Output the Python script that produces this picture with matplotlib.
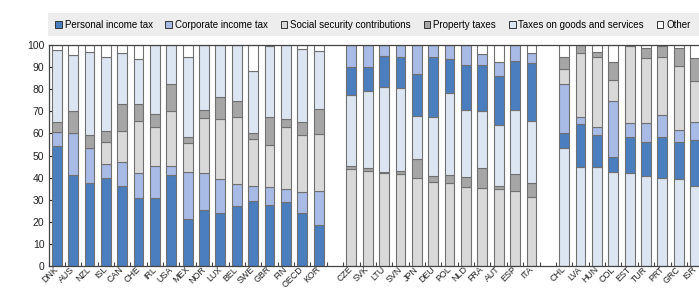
import matplotlib
matplotlib.use("Agg")
import matplotlib.pyplot as plt
from matplotlib.patches import Rectangle, Patch
import numpy as np

plt.rcParams['font.family'] = ['Liberation Sans', 'DejaVu Sans']

# ---- data -------------------------------------------------------------
group1 = ["DNK", "AUS", "NZL", "ISL", "CAN", "CHE", "IRL", "USA", "MEX", "NOR",
          "LUX", "BEL", "SWE", "GBR", "FIN", "OECD", "KOR"]
group2 = ["CZE", "SVK", "LTU", "SVN", "JPN", "DEU", "POL", "NLD", "FRA", "AUT",
          "ESP", "ITA"]
group3 = ["CHL", "LVA", "HUN", "COL", "EST", "TUR", "PRT", "GRC", "ISR"]

series_names = ["Personal income tax", "Corporate income tax",
                "Social security contributions", "Property taxes",
                "Taxes on goods and services", "Other"]

personal = [54.4, 41.0, 37.7, 39.8, 36.2, 30.6, 30.9, 41.1, 21.3, 25.3, 23.8, 27.1, 29.6, 27.6, 29.1, 23.8, 18.6,
            12.5, 10.6, 13.9, 14.0, 19.0, 27.1, 15.4, 20.6, 20.7, 22.3, 22.3, 25.9,
            6.8, 19.4, 14.6, 6.5, 16.6, 15.2, 18.8, 16.8, 21.0]
corporate = [6.2, 19.3, 15.5, 6.4, 11.0, 11.3, 14.3, 4.2, 21.4, 16.6, 15.7, 9.9, 6.6, 8.0, 5.7, 9.8, 15.5,
             10.1, 10.1, 5.0, 5.6, 13.1, 5.6, 6.5, 9.0, 4.9, 6.1, 7.1, 4.5,
             22.4, 3.3, 3.7, 25.6, 6.1, 8.4, 9.8, 5.5, 8.0]
social = [0.2, 0.0, 0.0, 9.8, 14.0, 23.7, 17.5, 25.0, 13.1, 25.1, 27.0, 30.3, 21.1, 19.2, 28.0, 25.7, 25.6,
          44.0, 43.0, 41.9, 41.5, 40.0, 37.9, 37.4, 35.9, 35.2, 34.7, 33.9, 31.1,
          6.7, 28.9, 31.4, 9.4, 34.9, 29.7, 26.4, 29.1, 18.5]
property_tax = [4.2, 9.7, 5.9, 5.3, 12.0, 7.5, 6.1, 12.0, 2.4, 3.7, 9.8, 7.5, 3.0, 12.5, 3.6, 5.7, 11.3,
                1.2, 1.2, 0.6, 1.5, 8.4, 3.0, 3.8, 4.3, 9.0, 1.6, 7.6, 6.3,
                5.3, 3.5, 2.6, 8.0, 0.5, 4.5, 4.7, 7.9, 10.6]
goods = [32.9, 25.3, 37.6, 33.1, 23.0, 20.6, 31.1, 17.7, 36.2, 29.3, 23.7, 25.2, 27.9, 32.4, 33.6, 33.2, 26.4,
         32.2, 35.1, 38.6, 37.4, 19.5, 26.4, 36.9, 30.2, 26.1, 27.5, 29.1, 28.4,
         53.2, 44.9, 44.7, 42.7, 41.9, 40.9, 39.7, 39.2, 36.2]
other = [2.1, 4.7, 3.3, 5.6, 3.8, 6.3, 0.1, 0.0, 5.6, 0.0, 0.0, 0.0, 11.8, 0.3, 0.0, 1.8, 2.6,
         0.0, 0.0, 0.0, 0.0, 0.0, 0.0, 0.0, 0.0, 4.1, 7.8, 0.0, 3.8,
         5.6, 0.0, 3.0, 7.8, 0.0, 1.3, 0.6, 1.5, 5.7]

# stacking order (bottom -> top) used in each group, indices into series
stack_orders = [[0, 1, 2, 3, 4, 5], [2, 3, 4, 0, 1, 5], [4, 0, 1, 2, 3, 5]]

colors = ["#4A7EBF", "#A8BBE6", "#D9D9D9", "#A6A6A6", "#DCE6F2", "#FFFFFF"]

# ---- figure -----------------------------------------------------------
W, H = 699, 288
fig = plt.figure(figsize=(W / 100, H / 100), dpi=100)

slot_px = 16.37
n_slots = 42
left_px, top_px, bottom_px = 48.5, 45, 266
ax = fig.add_axes([left_px / W, (H - bottom_px) / H,
                   n_slots * slot_px / W, (bottom_px - top_px) / H])

values = np.array([personal, corporate, social, property_tax, goods, other])
groups = [group1, group2, group3]

labels_all, pos_all = [], []
start = 0
offset = 0
for gi, g in enumerate(groups):
    idx = np.arange(start, start + len(g))
    pos = idx + offset
    bottom = np.zeros(len(g))
    for s in stack_orders[gi]:
        v = values[s, idx]
        ax.bar(pos, v, bottom=bottom, width=0.6, color=colors[s],
               edgecolor="#707070", linewidth=0.8, zorder=2)
        bottom += v
    labels_all += g
    pos_all += list(pos)
    start += len(g)
    offset += 1

ax.set_xlim(-0.5, n_slots - 0.5)
ax.set_ylim(0, 100)
ax.set_yticks(np.arange(0, 101, 10))
ax.tick_params(axis='y', direction='in', length=3, width=0.8, labelsize=7.5,
               colors='#222222', pad=3)

ax.set_xticks(np.arange(-0.5, n_slots, 1))
ax.set_xticklabels([])
ax.tick_params(axis='x', which='major', direction='in', length=3, width=0.8,
               color='#444444')
ax.set_xticks(pos_all, minor=True)
ax.set_xticklabels(labels_all, minor=True, rotation=45, ha='right',
                   va='center', rotation_mode='anchor', fontsize=6.4,
                   color='#222222')
ax.tick_params(axis='x', which='minor', length=0, pad=1.5)

for side in ['left', 'bottom', 'top']:
    ax.spines[side].set_color('#444444')
    ax.spines[side].set_linewidth(0.9)
ax.spines['right'].set_visible(False)

# legend band
fig.patches.append(Rectangle((48 / W, (H - 36) / H), (W - 48) / W, 23 / H,
                             transform=fig.transFigure, facecolor='#EDEDED',
                             edgecolor='none', zorder=0))
handles = [Patch(facecolor=colors[i], edgecolor='#333333', linewidth=0.7,
                 label=series_names[i]) for i in range(6)]
fig.legend(handles=handles, loc='center left', ncol=6, frameon=False,
           bbox_to_anchor=(55 / W, (H - 24.5) / H), fontsize=7,
           handlelength=0.7, handleheight=0.7, handletextpad=0.3,
           columnspacing=1.3, borderaxespad=0, borderpad=0)

fig.savefig("out.png", dpi=100)
